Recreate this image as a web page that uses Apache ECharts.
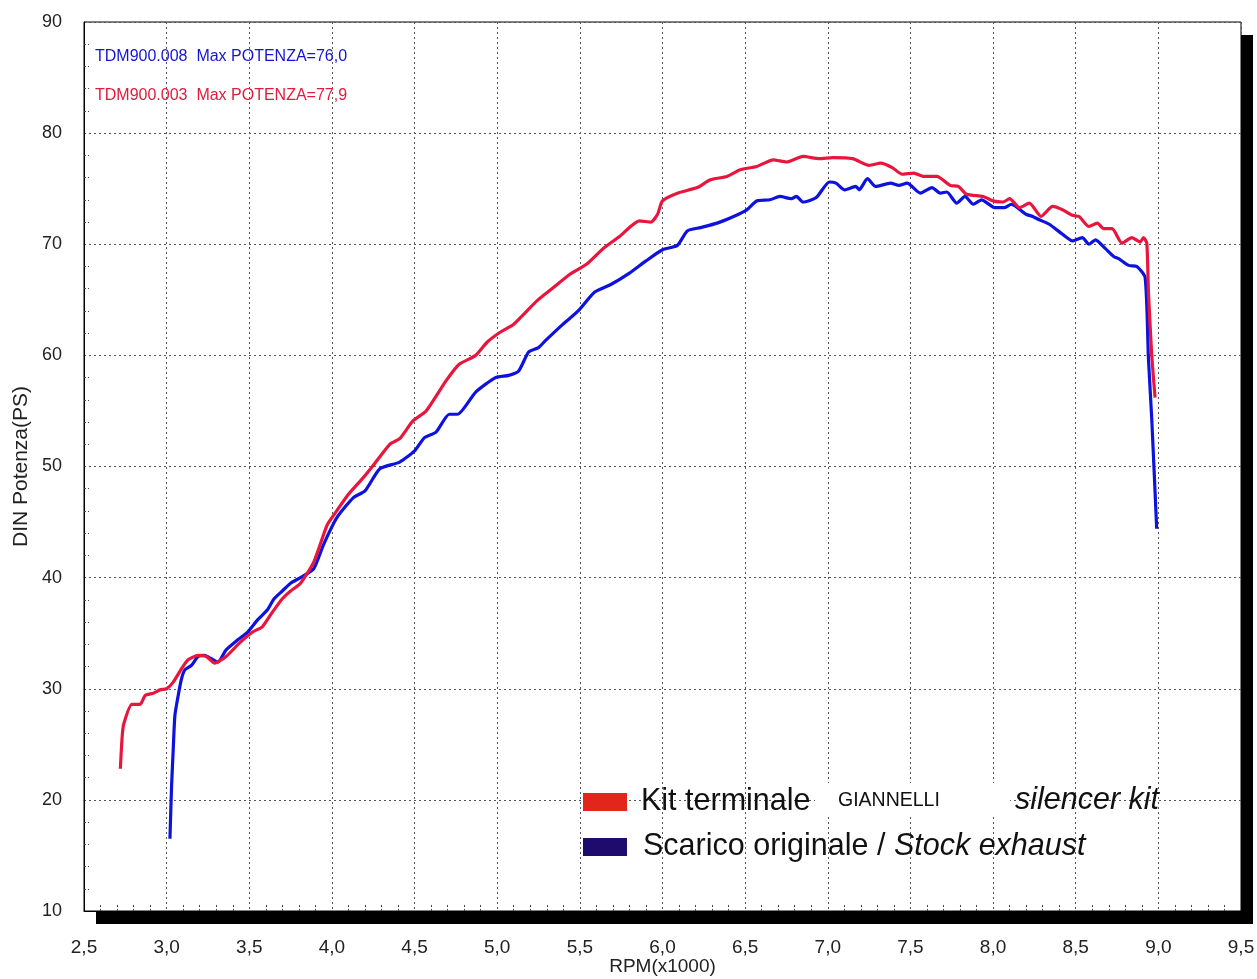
<!DOCTYPE html>
<html>
<head>
<meta charset="utf-8">
<script src="https://cdn.jsdelivr.net/npm/echarts@6/dist/echarts.min.js"></script>
<style>
html,body{margin:0;padding:0;background:#fff;}
#c{width:1257px;height:979px;}
</style>
</head>
<body>
<div id="c"></div>
<script>
var rpmKit = [2.72,2.73,2.74,2.79,2.84,2.87,2.92,2.96,3.00,3.04,3.09,3.13,3.19,3.24,3.29,3.36,3.44,3.52,3.58,3.64,3.70,3.75,3.81,3.89,3.97,4.01,4.10,4.19,4.24,4.35,4.41,4.49,4.57,4.69,4.77,4.87,4.94,5.02,5.10,5.24,5.34,5.44,5.54,5.64,5.74,5.86,5.93,5.97,6.00,6.09,6.21,6.29,6.39,6.47,6.57,6.67,6.75,6.85,6.95,7.03,7.15,7.25,7.32,7.39,7.45,7.52,7.58,7.66,7.74,7.79,7.84,7.94,8.00,8.06,8.10,8.16,8.22,8.29,8.36,8.42,8.48,8.52,8.58,8.63,8.67,8.72,8.78,8.84,8.89,8.91,8.93,8.94,8.96,8.98];
var psKit = [22.8,25.5,26.8,28.6,28.6,29.4,29.6,29.9,30.0,30.6,31.8,32.6,33.0,32.9,32.3,32.9,34.1,35.1,35.6,36.9,38.1,38.8,39.5,41.4,44.7,45.6,47.5,49.0,49.9,52.0,52.5,54.1,55.0,57.7,59.2,60.0,61.2,62.1,62.8,64.9,66.1,67.3,68.2,69.6,70.7,72.1,72.0,72.7,73.9,74.6,75.1,75.8,76.1,76.7,77.0,77.6,77.4,77.9,77.7,77.8,77.7,77.1,77.3,76.9,76.3,76.4,76.1,76.1,75.3,75.2,74.5,74.3,73.9,73.8,74.1,73.3,73.7,72.5,73.4,73.1,72.6,72.5,71.6,71.9,71.4,71.4,70.1,70.6,70.2,70.6,70.1,65.7,60.0,56.2];

var rpmStock = [3.02,3.03,3.04,3.05,3.07,3.09,3.11,3.15,3.19,3.23,3.27,3.31,3.36,3.43,3.49,3.55,3.61,3.65,3.70,3.75,3.81,3.89,3.95,4.03,4.13,4.20,4.29,4.41,4.50,4.56,4.63,4.71,4.76,4.87,4.99,5.07,5.13,5.19,5.25,5.29,5.39,5.49,5.59,5.69,5.80,5.90,6.00,6.09,6.15,6.23,6.33,6.43,6.51,6.57,6.65,6.71,6.78,6.81,6.85,6.93,7.01,7.05,7.10,7.17,7.19,7.24,7.29,7.38,7.43,7.48,7.56,7.63,7.68,7.72,7.78,7.83,7.88,7.93,8.01,8.07,8.11,8.20,8.24,8.28,8.34,8.42,8.48,8.54,8.58,8.62,8.68,8.73,8.76,8.82,8.87,8.92,8.94,8.96,8.99];
var psStock = [16.5,21.3,24.6,27.6,29.4,30.9,31.7,32.1,32.9,33.0,32.7,32.4,33.5,34.4,35.1,36.2,37.1,38.1,38.8,39.5,40.0,40.8,43.0,45.4,47.2,47.8,49.8,50.4,51.4,52.6,53.1,54.7,54.7,56.7,58.0,58.2,58.6,60.3,60.7,61.3,62.7,64.0,65.7,66.4,67.4,68.5,69.5,69.9,71.2,71.5,71.9,72.5,73.1,73.9,74.0,74.3,74.1,74.3,73.8,74.2,75.6,75.5,74.9,75.2,74.9,75.9,75.2,75.5,75.3,75.5,74.6,75.1,74.6,74.7,73.7,74.3,73.6,74.0,73.3,73.3,73.6,72.7,72.5,72.2,71.8,70.9,70.3,70.6,70.0,70.4,69.6,68.9,68.7,68.1,68.0,67.0,59.7,54.3,44.4];

var annoStock = 'TDM900.008  Max POTENZA=76,0';
var annoKit = 'TDM900.003  Max POTENZA=77,9';
var legendKit = ['Kit terminale', 'GIANNELLI', 'silencer kit'];
var legendStock = ['Scarico originale / ', 'Stock exhaust'];
var xName = 'RPM(x1000)';
var yName = 'DIN Potenza(PS)';

function pairs(xs, ys){ var o=[]; for(var i=0;i<xs.length;i++) o.push([xs[i], ys[i]]); return o; }

var FONT = '"Liberation Sans", Arial, sans-serif';
var chart = echarts.init(document.getElementById('c'), null, {renderer:'canvas'});
var gridLine = {show:true, lineStyle:{color:'#555', width:1, type:[2,3]}};
var G = {left:84, top:22, right:16, bottom:68};
var GW = 1257 - G.left - G.right, GH = 979 - G.top - G.bottom;
var SH = 12;

chart.setOption({
  animation:false,
  backgroundColor:'#fff',
  grid:{left:G.left, top:G.top, right:G.right, bottom:G.bottom, outerBoundsMode:'none', containLabel:false,
        show:true, backgroundColor:'#fff', borderColor:'#000', borderWidth:1},
  xAxis:{type:'value', min:2.5, max:9.5, interval:0.5,
    name:xName, nameLocation:'middle', nameGap:46, nameMoveOverlap:false, nameTextStyle:{fontFamily:FONT, fontSize:19, color:'#222'},
    axisLine:{show:true, lineStyle:{color:'#000', width:1}},
    axisTick:{show:false, inside:true},
    minorTick:{show:true, splitNumber:5, length:7, lineStyle:{color:'#444', width:1, type:[2,2]}},
    axisLabel:{margin:27, fontFamily:FONT, fontSize:19, color:'#222', formatter:function(v){return v.toFixed(1).replace('.', ',');}},
    splitLine:gridLine},
  yAxis:{type:'value', min:10, max:90, interval:10,
    name:yName, nameLocation:'middle', nameGap:52, nameMoveOverlap:false, nameRotate:90, nameTextStyle:{fontFamily:FONT, fontSize:21, color:'#222'},
    axisLine:{show:true, lineStyle:{color:'#000', width:1}},
    axisTick:{show:false, inside:true},
    minorTick:{show:true, splitNumber:5, length:5, lineStyle:{color:'#444', width:1, type:[2,2]}},
    axisLabel:{margin:22, fontFamily:FONT, fontSize:18, color:'#222'},
    splitLine:gridLine},
  series:[
    {name:'Stock', type:'line', data:pairs(rpmStock, psStock), showSymbol:false, symbol:'none', smooth:0.2,
     lineStyle:{color:'#0d12dc', width:3.2}, z:3},
    {name:'Kit', type:'line', data:pairs(rpmKit, psKit), showSymbol:false, symbol:'none', smooth:0.2,
     lineStyle:{color:'#e8163c', width:3.2}, z:4}
  ],
  graphic:[
    {type:'rect', left:G.left+GW, top:G.top+13, z:20, shape:{width:SH, height:GH}, style:{fill:'#000'}},
    {type:'rect', left:G.left+SH, top:G.top+GH, z:20, shape:{width:GW, height:13}, style:{fill:'#000'}},
    {type:'text', left:95, top:49, z:10, style:{text:annoStock, fill:'#1414d4', font:'16px '+FONT}},
    {type:'text', left:95, top:88, z:10, style:{text:annoKit, fill:'#e21a3c', font:'16px '+FONT}},
    {type:'rect', left:815, top:783, z:9, shape:{width:195, height:33}, style:{fill:'#fff'}},
    {type:'rect', left:583, top:793, z:10, shape:{width:44, height:18}, style:{fill:'#e3261c'}},
    {type:'rect', left:583, top:838, z:10, shape:{width:44, height:18}, style:{fill:'#1f0a6e'}},
    {type:'text', left:641, top:786, z:10, style:{text:legendKit[0], fill:'#111', font:'30.5px '+FONT}},
    {type:'text', left:838, top:791, z:10, style:{text:legendKit[1], fill:'#111', font:'19.5px '+FONT}},
    {type:'text', left:1015, top:786, z:10, style:{text:legendKit[2], fill:'#111', font:'italic 30.5px '+FONT}},
    {type:'text', left:643, top:831, z:10, style:{rich:{a:{fontFamily:FONT, fontSize:30.5, fill:'#111'}, b:{fontFamily:FONT, fontSize:30.5, fontStyle:'italic', fill:'#111'}},
      text:'{a|'+legendStock[0]+'}{b|'+legendStock[1]+'}'}}
  ]
});
</script>
</body>
</html>
